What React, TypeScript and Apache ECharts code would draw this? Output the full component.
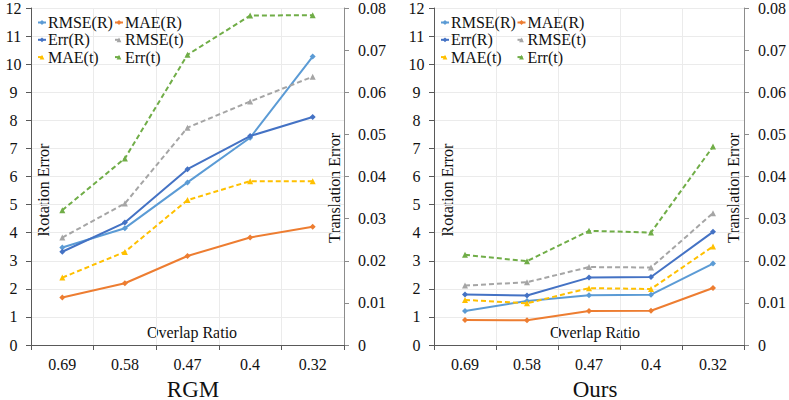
import React, { useEffect, useRef } from "react";
import * as echarts from "echarts";

const categories = ["0.69", "0.58", "0.47", "0.4", "0.32"];
const panelTitles = ["RGM", "Ours"];
const seriesNames = ["RMSE(R)", "MAE(R)", "Err(R)", "RMSE(t)", "MAE(t)", "Err(t)"];
const legendCol1 = ["RMSE(R)", "Err(R)", "MAE(t)"];
const legendCol2 = ["MAE(R)", "RMSE(t)", "Err(t)"];

const rgmRmseR = [3.47, 4.16, 5.79, 7.38, 10.27];
const rgmMaeR = [1.69, 2.2, 3.17, 3.83, 4.21];
const rgmErrR = [3.32, 4.36, 6.26, 7.44, 8.12];
const rgmRmseT = [0.0255, 0.0336, 0.0516, 0.0578, 0.0637];
const rgmMaeT = [0.016, 0.0221, 0.0344, 0.0389, 0.0389];
const rgmErrT = [0.032, 0.0443, 0.0689, 0.0782, 0.0783];

const oursRmseR = [1.21, 1.57, 1.77, 1.79, 2.9];
const oursMaeR = [0.89, 0.88, 1.21, 1.22, 2.03];
const oursErrR = [1.8, 1.76, 2.4, 2.42, 4.03];
const oursRmseT = [0.0141, 0.0149, 0.0185, 0.0184, 0.0313];
const oursMaeT = [0.0107, 0.0099, 0.0135, 0.0133, 0.0234];
const oursErrT = [0.0214, 0.0199, 0.0271, 0.0267, 0.0471];

const colors = ["#5B9BD5", "#ED7D31", "#4472C4", "#A5A5A5", "#FFC000", "#70AD47"];
const FONT = "Liberation Serif";

export default function App() {
  const ref = useRef<HTMLDivElement>(null);
  useEffect(() => {
    if (!ref.current) return;
    const chart = echarts.init(ref.current, undefined, { renderer: "svg" });
    const panels = [
      { data: [rgmRmseR, rgmMaeR, rgmErrR, rgmRmseT, rgmMaeT, rgmErrT], left: 31, width: 313 },
      { data: [oursRmseR, oursMaeR, oursErrR, oursRmseT, oursMaeT, oursErrT], left: 434, width: 310 },
    ];
    const grids = panels.map((p) => ({ left: p.left, width: p.width, top: 7.5, bottom: 55 }));
    const xAxes = panels.map((p, i) => ({
      type: "category",
      gridIndex: i,
      data: categories,
      boundaryGap: true,
      axisLine: { lineStyle: { color: "#595959", width: 1 } },
      axisTick: { show: true, inside: false, length: 5, lineStyle: { color: "#595959" } },
      axisLabel: { color: "#111", fontFamily: FONT, fontSize: 16, margin: 11 },
      splitLine: { show: true, lineStyle: { color: "#EBEBEB", width: 1 } },
    }));
    const yAxes: any[] = [];
    panels.forEach((p, i) => {
      yAxes.push({
        type: "value",
        gridIndex: i,
        position: "left",
        min: 0,
        max: 12,
        interval: 1,
        axisLine: { show: true, lineStyle: { color: "#595959" } },
        axisTick: { show: true, length: 5, lineStyle: { color: "#595959" } },
        axisLabel: { color: "#111", fontFamily: FONT, fontSize: 16, margin: 17.5, align: "center" },
        splitLine: { show: true, lineStyle: { color: "#EBEBEB" } },
      });
      yAxes.push({
        type: "value",
        gridIndex: i,
        position: "right",
        min: 0,
        max: 0.08,
        interval: 0.01,
        axisLine: { show: true, lineStyle: { color: "#8C8C8C" } },
        axisTick: { show: true, length: 5, lineStyle: { color: "#8C8C8C" } },
        axisLabel: { color: "#111", fontFamily: FONT, fontSize: 16, margin: 14, align: "left" },
        splitLine: { show: false },
      });
    });
    const series: any[] = [];
    panels.forEach((p, i) => {
      p.data.forEach((vals, k) => {
        const isT = k >= 3;
        series.push({
          type: "line",
          name: seriesNames[k],
          xAxisIndex: i,
          yAxisIndex: i * 2 + (isT ? 1 : 0),
          data: vals,
          symbol: isT ? "triangle" : "diamond",
          symbolSize: 6,
          color: colors[k],
          lineStyle: { width: 2, color: colors[k], type: isT ? [5, 3] : "solid" },
          itemStyle: { color: colors[k] },
          z: 2 + k,
        });
      });
    });
    const legendBase = {
      orient: "vertical",
      top: 14.5,
      itemWidth: 8,
      itemHeight: 6,
      itemGap: 1.3,
      padding: 0,
      textStyle: { fontFamily: FONT, fontSize: 16, color: "#111", lineHeight: 16, padding: [0, 0, 0, -3] },
    };
    const legends = [
      { ...legendBase, left: 37, data: legendCol1 },
      { ...legendBase, left: 114, data: legendCol2 },
      { ...legendBase, left: 440, data: legendCol1 },
      { ...legendBase, left: 516.5, data: legendCol2 },
    ];
    const textStyle = (t: string, size = 16) => ({
      text: t,
      fill: "#111",
      fontFamily: FONT,
      fontSize: size,
      align: "center",
      verticalAlign: "middle",
    });
    const graphic: any[] = [
      { type: "text", x: 43, y: 190, rotation: Math.PI / 2, style: textStyle("Rotation Error") },
      { type: "text", x: 334, y: 188, rotation: Math.PI / 2, style: textStyle("Translation Error") },
      { type: "text", x: 192, y: 332, style: textStyle("Overlap Ratio") },
      { type: "text", x: 447, y: 190, rotation: Math.PI / 2, style: textStyle("Rotation Error") },
      { type: "text", x: 733, y: 188, rotation: Math.PI / 2, style: textStyle("Translation Error") },
      { type: "text", x: 595, y: 332, style: textStyle("Overlap Ratio") },
      { type: "text", x: 193, y: 389, style: textStyle(panelTitles[0], 23) },
      { type: "text", x: 595, y: 389, style: textStyle(panelTitles[1], 23) },
    ];
    chart.setOption({
      animation: false,
      backgroundColor: "#ffffff",
      grid: grids,
      xAxis: xAxes,
      yAxis: yAxes,
      legend: legends,
      series,
      graphic,
    });
    return () => chart.dispose();
  }, []);
  return (
    <div
      ref={ref}
      style={{ position: "fixed", left: 0, top: 0, width: 789, height: 400, background: "#fff" }}
    />
  );
}
